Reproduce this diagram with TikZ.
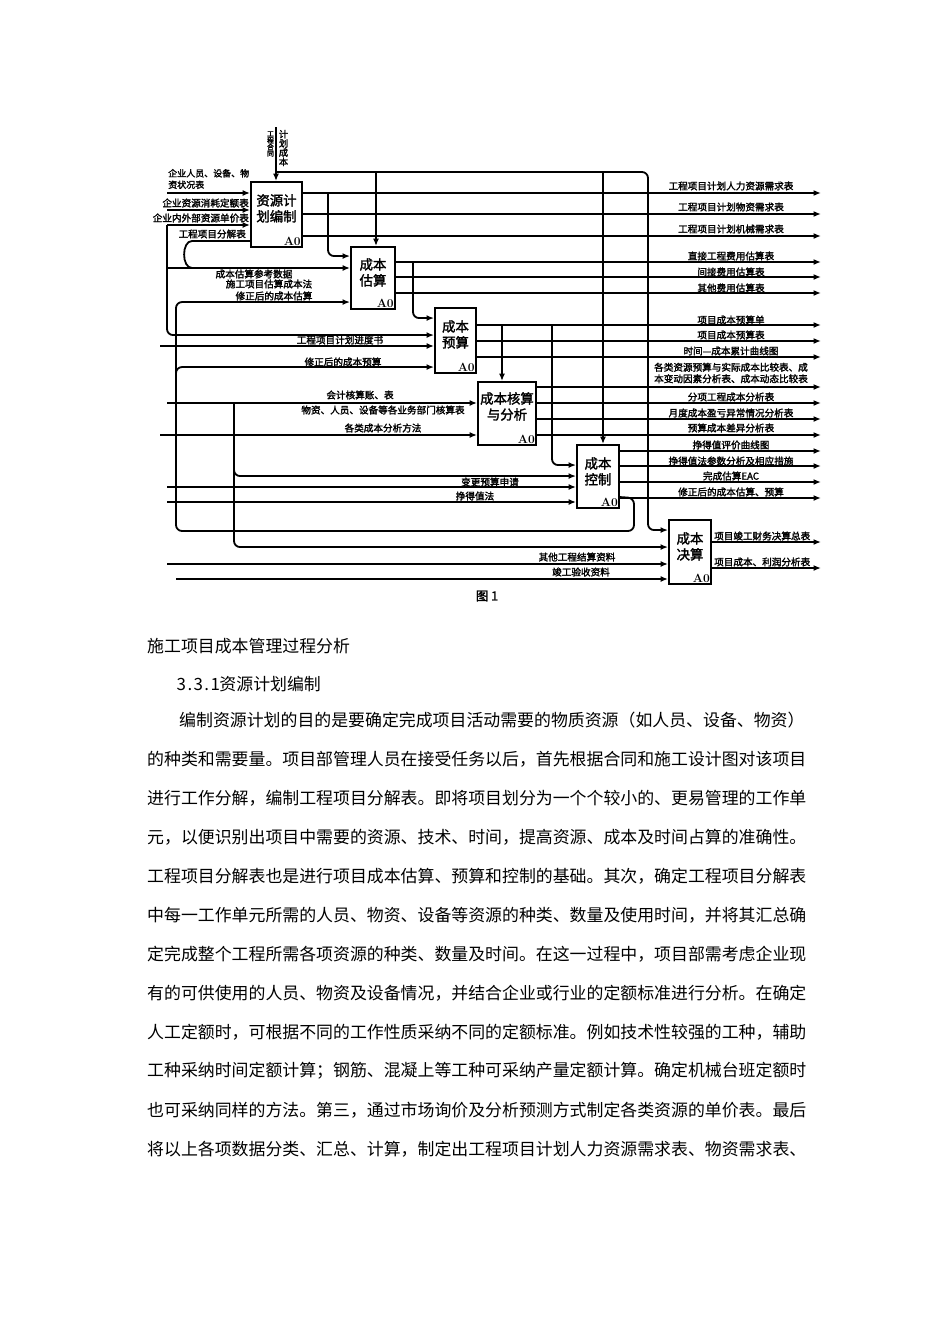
\documentclass[tikz,border=0pt]{standalone}
\usepackage{fontspec}
\newfontfamily\cjk{Noto Sans CJK SC}
\newfontfamily\cjkb[FakeBold=2]{Noto Sans CJK SC}
\usetikzlibrary{arrows.meta}
\newcommand{\hw}[1]{\makebox[0.5em][c]{#1}}
\tikzset{
  proc/.style={draw,line width=1.9pt,inner sep=0pt},
  ptext/.style={font=\cjkb\fontsize{13.4}{16}\selectfont,align=center,anchor=north,inner sep=0pt},
  azero/.style={font=\rmfamily\bfseries\fontsize{12}{12}\selectfont,anchor=south east,inner sep=2pt},
  lab/.style={font=\cjkb\fontsize{9.6}{11.5}\selectfont,inner sep=0pt,align=center},
  body/.style={font=\cjk\fontsize{16.9}{20}\selectfont,anchor=west,inner sep=0pt},
  flow/.style={line width=1.8pt},
}
\begin{document}
\begin{tikzpicture}[x=1pt,y=-1pt,>={Latex[length=7.5pt,width=6pt]}]
\useasboundingbox (0,0) rectangle (950,1344);
% activity boxes
\node[proc,minimum width=51pt,minimum height=65pt] (plan) at (276.5,214.5) {};
\node[proc,minimum width=44pt,minimum height=62pt] (est) at (373,278) {};
\node[proc,minimum width=41pt,minimum height=65pt] (bud) at (455.5,340.5) {};
\node[proc,minimum width=58pt,minimum height=63pt] (acc) at (507,413.5) {};
\node[proc,minimum width=42pt,minimum height=63pt] (ctl) at (598,476.5) {};
\node[proc,minimum width=42pt,minimum height=64pt] (fin) at (690,552) {};
\node[ptext] (plant) at ([yshift=-13pt]plan.north) {资源计\\划编制};
\node[ptext] (estt) at ([yshift=-12pt]est.north) {成本\\估算};
\node[ptext] (budt) at ([yshift=-13pt]bud.north) {成本\\预算};
\node[ptext] (acct) at ([yshift=-11pt]acc.north) {成本核算\\与分析};
\node[ptext] (ctlt) at ([yshift=-13pt]ctl.north) {成本\\控制};
\node[ptext] (fint) at ([yshift=-13pt]fin.north) {成本\\决算};
\foreach \b in {plan,est,bud,acc,ctl,fin}
  \node[azero] (\b a) at (\b.south east) {A0};

% control from the top
\coordinate (ctop) at (276,127);
\coordinate (jtop) at (276,172);
\coordinate (jr) at (648,172);
\draw[flow,->] (ctop) -- (ctop |- plan.north);
\node[lab,font=\cjkb\fontsize{6.8}{6.6}\selectfont] (ht) at (270.5,144) {工\\程\\合\\同};
\node[lab,font=\cjkb\fontsize{9.2}{9.2}\selectfont] (jh) at (283.5,148) {计\\划\\成\\本};
\draw[flow,->,rounded corners=6pt] (jtop) -- (jr) |- ([yshift=-11pt]fin.north west);
\coordinate (estin) at ([xshift=3pt]est.north);
\coordinate (ctlin) at ([xshift=5pt]ctl.north);
\draw[flow,->] (estin |- jtop) -- (estin);
\draw[flow,->] (ctlin |- jtop) -- (ctlin);

% inputs of plan
\coordinate (p1) at (167,193);
\coordinate (p2) at (167,210);
\coordinate (p3) at (167,225);
\foreach \c in {p1,p2,p3}
  \draw[flow,->] (\c) -- (\c -| plan.west);
\node[lab,anchor=west,align=left,font=\cjkb\fontsize{9}{11.5}\selectfont] (l1) at (168,179) {企业人员、设备、物\\资状况表};
\node[lab,anchor=east] (l2) at (249,203) {企业资源消耗定额表};
\node[lab,anchor=east] (l3) at (249,218) {企业内外部资源单价表};
\node[lab,anchor=east] (l4) at (246,234) {工程项目分解表};

% left bus and loop
\coordinate (q1) at (167,268);
\coordinate (c1) at (192,241);
\coordinate (c2) at (192,268);
\draw[flow,->,rounded corners=6pt] (p3) |- ([yshift=-28pt]bud.north west);
\draw[flow,->] (q1) -- (q1 -| est.west);
\draw[flow] (c1 -| plan.west) -- (c1) to[out=180,in=180] (c2);
\node[lab] (l5) at (254,274) {成本估算参考数据};
\node[lab] (l6) at (269,284) {施工项目估算成本法};

% links between boxes
\coordinate (b1) at (328,193);
\coordinate (b2) at (413,262);
\coordinate (b3) at (502,325);
\coordinate (b4) at (552,325);
\draw[flow,->,rounded corners=6pt] (b1) |- ([yshift=-10pt]est.north west);
\draw[flow,->,rounded corners=6pt] (b2) |- ([yshift=-11pt]bud.north west);
\draw[flow,->] (b3) -- (b3 |- acc.north);
\draw[flow,->,rounded corners=6pt] (b4) |- ([yshift=-21pt]ctl.north west);

% feedback of the revised estimate
\coordinate (f1) at (634,498);
\coordinate (f2) at (176,531);
\coordinate (f3) at (176,385);
\draw[flow,->,rounded corners=6pt] ([yshift=-53pt]ctl.north east) -- (f1) |- (f2) |- ([yshift=-56pt]est.north west);
\draw[flow,->,rounded corners=6pt] (f3) |- ([yshift=-60pt]bud.north west);
\node[lab] (l7) at (274,296) {修正后的成本估算};
\node[lab] (l8) at (343,362) {修正后的成本预算};

% other inputs
\coordinate (p4) at (160,346);
\coordinate (p5) at (167,403);
\coordinate (p6) at (160,435);
\coordinate (p7) at (167,487);
\coordinate (p8) at (167,502);
\coordinate (p9) at (167,564);
\coordinate (p10) at (176,579);
\coordinate (b5) at (234,403);
\draw[flow,->] (p4) -- (p4 -| bud.west);
\draw[flow,->] (p5) -- (p5 -| acc.west);
\draw[flow,->] (p6) -- (p6 -| acc.west);
\draw[flow,->] (p7) -- (p7 -| ctl.west);
\draw[flow,->] (p8) -- (p8 -| ctl.west);
\draw[flow,->] (p9) -- (p9 -| fin.west);
\draw[flow,->] (p10) -- (p10 -| fin.west);
\draw[flow,->,rounded corners=6pt] (b5) |- ([yshift=-32pt]ctl.north west);
\draw[flow,->,rounded corners=6pt] (b5) |- ([yshift=-28pt]fin.north west);
\node[lab] (l9) at (340,340) {工程项目计划进度书};
\node[lab] (l10) at (360,395) {会计核算账、表};
\node[lab] (l11) at (383,410) {物资、人员、设备等各业务部门核算表};
\node[lab] (l12) at (383,428) {各类成本分析方法};
\node[lab] (l13) at (490,482) {变更预算申请};
\node[lab] (l14) at (475,496) {挣得值法};
\node[lab] (l15) at (577,557) {其他工程结算资料};
\node[lab] (l16) at (581,572) {竣工验收资料};

% outputs
\foreach \b/\y/\ly/\t [count=\i] in {
  plan/193/186/工程项目计划人力资源需求表,
  plan/214/207/工程项目计划物资需求表,
  plan/236/229/工程项目计划机械需求表,
  est/262/256/直接工程费用估算表,
  est/277/272/间接费用估算表,
  est/293/288/其他费用估算表,
  bud/325/320/项目成本预算单,
  bud/341/335/项目成本预算表,
  bud/357/351/时间—成本累计曲线图,
  acc/387/373/各类资源预算与实际成本比较表、成\\本变动因素分析表、成本动态比较表,
  acc/403/397/分项工程成本分析表,
  acc/419/413/月度成本盈亏异常情况分析表,
  acc/435/428/预算成本差异分析表,
  ctl/451/445/挣得值评价曲线图,
  ctl/466/461/挣得值法参数分析及相应措施,
  ctl/482/476/完成估算EAC,
  ctl/498/492/修正后的成本估算、预算}{
  \coordinate (o\i) at (821,\y);
  \draw[flow,->] (\b.east |- o\i) -- (o\i);
  \node[lab] (ol\i) at (731,\ly) {\t};
}
\coordinate (o18) at (821,542);
\coordinate (o19) at (821,568);
\draw[flow,->] (fin.east |- o18) -- (o18);
\draw[flow,->] (fin.east |- o19) -- (o19);
\node[lab,anchor=west] (ol18) at (714,536) {项目竣工财务决算总表};
\node[lab,anchor=west] (ol19) at (714,562) {项目成本、利润分析表};
\node[font=\cjkb\fontsize{12.5}{12}\selectfont,inner sep=0pt] (cap) at (487,596) {图 1};

% text below the figure
\node[body] (t0) at (147,646) {施工项目成本管理过程分析};
\node[body] (t1) at (177,684) {\hw{3}\hw{.}\hw{3}\hw{.}\hw{1}资源计划编制};
\node[body] (t2) at (179,720) {编制资源计划的目的是要确定完成项目活动需要的物质资源（如人员、设备、物资）};
\foreach \s [count=\i from 3] in {
  的种类和需要量。项目部管理人员在接受任务以后，首先根据合同和施工设计图对该项目,
  进行工作分解，编制工程项目分解表。即将项目划分为一个个较小的、更易管理的工作单,
  元，以便识别出项目中需要的资源、技术、时间，提高资源、成本及时间占算的准确性。,
  工程项目分解表也是进行项目成本估算、预算和控制的基础。其次，确定工程项目分解表,
  中每一工作单元所需的人员、物资、设备等资源的种类、数量及使用时间，并将其汇总确,
  定完成整个工程所需各项资源的种类、数量及时间。在这一过程中，项目部需考虑企业现,
  有的可供使用的人员、物资及设备情况，并结合企业或行业的定额标准进行分析。在确定,
  人工定额时，可根据不同的工作性质采纳不同的定额标准。例如技术性较强的工种，辅助,
  工种采纳时间定额计算；钢筋、混凝上等工种可采纳产量定额计算。确定机械台班定额时,
  也可采纳同样的方法。第三，通过市场询价及分析预测方式制定各类资源的单价表。最后,
  将以上各项数据分类、汇总、计算，制定出工程项目计划人力资源需求表、物资需求表、}
  \node[body] (t\i) at (147,{720+39*(\i-2)}) {\s};
\end{tikzpicture}
\end{document}
